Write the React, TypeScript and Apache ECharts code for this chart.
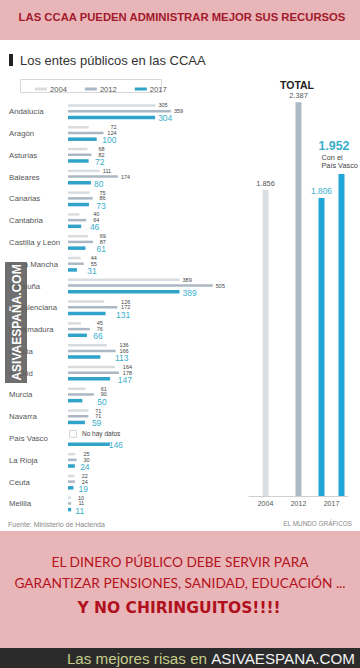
import React, { useEffect, useRef } from "react";
import * as echarts from "echarts";

// ---------- data ----------
const categories = [
  "Andalucía", "Aragón", "Asturias", "Baleares", "Canarias", "Cantabria",
  "Castilla y León", "C.-La Mancha", "Cataluña", "C. Valenciana", "Extremadura",
  "Galicia", "Madrid", "Murcia", "Navarra", "País Vasco", "La Rioja", "Ceuta", "Melilla",
];
const values2004: (number | null)[] = [305, 72, 68, 111, 75, 40, 69, 44, 389, 126, 45, 136, 164, 61, 71, null, 25, 22, 10];
const values2012: (number | null)[] = [359, 124, 82, 174, 86, 64, 87, 55, 505, 172, 76, 166, 178, 90, 71, null, 30, 24, 11];
const values2017: (number | null)[] = [304, 100, 72, 80, 73, 46, 61, 31, 389, 131, 66, 113, 147, 50, 59, 146, 24, 19, 11];
const seriesNames = ["2004", "2012", "2017"];

const totalYears = ["2004", "2012", "2017"];
const totalValues = [1856, 2387, 1806];
const total2017WithPaisVasco = 1952;

// ---------- layout / style ----------
const FONT = '"Liberation Sans", Arial, sans-serif';
const LEFT_X = 68;
const LEFT_W = 172;
const X_MAX = 600;
const K = LEFT_W / X_MAX;
const LEFT_TOP = 100.8;
const LEFT_H = 414;
const BAR_W = [2.5, 2.5, 3.5];
const COLORS = ["#d9dcdf", "#abb8c3", "#2fa3c9"];
const TOTAL_COLORS = ["#dcdfe2", "#adbac5", "#22a6d8"];
const TEAL_TEXT = "#3aafcc";
const STAGGERED = new Set(["Andalucía", "Baleares", "Cataluña"]);
const PINK = "#e8b6b9";
const SMALL_FS = 5.5;
const BIG_FS = 8.5;

const allVals = [values2004, values2012, values2017];

function fmt(v: number): string {
  if (v < 1000) return String(v);
  return Math.floor(v / 1000) + "." + String(v % 1000).padStart(3, "0");
}

function leftData(si: number) {
  const arr = allVals[si];
  const small = si < 2;
  const dy = small ? 0 : 1;
  return arr.map((v, i) => {
    const present = allVals.map((a) => a[i]).filter((x) => x != null) as number[];
    const max = Math.max(...present);
    if (v == null) {
      if (si === 0) {
        return {
          value: 0,
          label: {
            show: true,
            position: [2, BAR_W[0] / 2 + 1.5],
            align: "left",
            verticalAlign: "middle",
            formatter: "{b|}{t|No hay datos}",
            rich: {
              b: { width: 6, height: 6, borderColor: "#bbb", borderWidth: 0.6, backgroundColor: "#fff" },
              t: { fontSize: 6.5, lineHeight: 6.5, color: "#444", fontFamily: FONT, padding: [0, 0, 0, 6] },
            },
          },
        };
      }
      return "-";
    }
    const label = STAGGERED.has(categories[i])
      ? { position: "right", distance: 3, offset: [0, dy] }
      : { position: [max * K + 13, BAR_W[si] / 2 + dy], align: "right", verticalAlign: "middle" };
    return { value: v, label: { ...label, fontSize: small ? SMALL_FS : BIG_FS, lineHeight: small ? SMALL_FS : BIG_FS } };
  });
}

function buildOption(): any {
  const leftSeries = seriesNames.map((name, si) => ({
    type: "bar",
    name,
    xAxisIndex: 0,
    yAxisIndex: 0,
    data: leftData(si),
    barWidth: BAR_W[si],
    barGap: "128%",
    itemStyle: { color: COLORS[si] },
    label: {
      show: true,
      fontFamily: FONT,
      color: si < 2 ? "#444" : TEAL_TEXT,
      fontSize: si < 2 ? SMALL_FS : BIG_FS,
    },
    silent: true,
  }));

  const totalMain = {
    type: "bar",
    name: "total",
    xAxisIndex: 1,
    yAxisIndex: 1,
    barWidth: 6,
    data: totalValues.map((v, i) =>
      i < 2 ? { value: v, itemStyle: { color: TOTAL_COLORS[i] } } : "-"
    ),
    label: {
      show: true,
      position: "top",
      distance: 3,
      fontFamily: FONT,
      fontSize: 7.4,
      color: "#555",
      formatter: (p: any) => fmt(p.value),
    },
  };
  const total2017 = {
    type: "bar",
    name: "total2017",
    xAxisIndex: 2,
    yAxisIndex: 1,
    barWidth: 6,
    barGap: "233%",
    data: totalValues.map((v, i) => (i === 2 ? v : "-")),
    itemStyle: { color: TOTAL_COLORS[2] },
    label: {
      show: true,
      position: "top",
      distance: 3,
      fontFamily: FONT,
      fontSize: 8.4,
      color: TEAL_TEXT,
      formatter: (p: any) => fmt(p.value),
    },
  };
  const total2017pv = {
    type: "bar",
    name: "total2017pv",
    xAxisIndex: 2,
    yAxisIndex: 1,
    barWidth: 6,
    barGap: "233%",
    data: totalYears.map((_, i) => (i === 2 ? total2017WithPaisVasco : "-")),
    itemStyle: { color: TOTAL_COLORS[2] },
    label: {
      show: true,
      position: [-20, -35],
      align: "left",
      verticalAlign: "top",
      formatter: (p: any) => "{v|" + fmt(p.value) + "}\n{c|Con el}\n{c|País Vasco}",
      rich: {
        v: { fontFamily: FONT, fontSize: 12.4, fontWeight: "bold", color: TEAL_TEXT, lineHeight: 15 },
        c: { fontFamily: FONT, fontSize: 7.3, color: "#444", lineHeight: 8, padding: [0, 0, 0, 3] },
      },
    },
  };

  const graphic: any[] = [
    { type: "rect", shape: { x: 0, y: 0, width: 360, height: 40 }, style: { fill: PINK } },
    {
      type: "text", x: 182, y: 17,
      style: {
        text: "LAS CCAA PUEDEN ADMINISTRAR MEJOR SUS RECURSOS",
        fill: "#a3192b", fontFamily: FONT, fontSize: 11.3, fontWeight: "bold",
        textAlign: "center", textVerticalAlign: "middle",
      },
    },
    { type: "rect", shape: { x: 9, y: 54, width: 4, height: 12 }, style: { fill: "#222" } },
    {
      type: "text", x: 20, y: 60,
      style: {
        text: "Los entes públicos en las CCAA", fill: "#333", fontFamily: FONT, fontSize: 13,
        textAlign: "left", textVerticalAlign: "middle",
      },
    },
    {
      type: "rect", z: -1, shape: { x: 20.5, y: 79.5, width: 141, height: 13 },
      style: { fill: "#fff", stroke: "#d8d8d8", lineWidth: 1 },
    },
    {
      type: "text", x: 297, y: 84.5,
      style: {
        text: "TOTAL", fill: "#222", fontFamily: FONT, fontSize: 10.5, fontWeight: "bold",
        textAlign: "center", textVerticalAlign: "middle",
      },
    },
    {
      type: "text", x: 8, y: 524.5,
      style: {
        text: "Fuente: Ministerio de Hacienda", fill: "#888", fontFamily: FONT, fontSize: 7,
        textAlign: "left", textVerticalAlign: "middle",
      },
    },
    {
      type: "text", x: 352, y: 523.5,
      style: {
        text: "EL MUNDO GRÁFICOS", fill: "#888", fontFamily: FONT, fontSize: 6.4,
        textAlign: "right", textVerticalAlign: "middle",
      },
    },
    { type: "rect", shape: { x: 0, y: 531, width: 360, height: 117 }, style: { fill: PINK } },
    {
      type: "text", x: 180, y: 561,
      style: {
        text: "EL DINERO PÚBLICO DEBE SERVIR PARA", fill: "#b5121b", fontFamily: "Lato, sans-serif",
        fontSize: 13.7, fontWeight: "normal", textAlign: "center", textVerticalAlign: "middle",
      },
    },
    {
      type: "text", x: 180, y: 582,
      style: {
        text: "GARANTIZAR PENSIONES, SANIDAD, EDUCACIÓN ...", fill: "#b5121b", fontFamily: "Lato, sans-serif",
        fontSize: 13.7, fontWeight: "normal", textAlign: "center", textVerticalAlign: "middle",
      },
    },
    {
      type: "text", x: 179, y: 608,
      style: {
        text: "Y NO CHIRINGUITOS!!!!", fill: "#b0101c", fontFamily: '"DejaVu Sans", sans-serif',
        fontSize: 15.5, fontWeight: "bold", textAlign: "center", textVerticalAlign: "middle",
      },
    },
    { type: "rect", shape: { x: 0, y: 648, width: 360, height: 20 }, style: { fill: "#2b2b2b" } },
    {
      type: "text", x: 355, y: 658,
      style: {
        text: "{a|Las mejores risas en }{b|ASIVAESPANA.COM}",
        textAlign: "right", textVerticalAlign: "middle",
        rich: {
          a: { fill: "#c6cd8a", fontFamily: FONT, fontSize: 15.2 },
          b: { fill: "#f2f2f2", fontFamily: FONT, fontSize: 15.2 },
        },
      },
    },
    {
      type: "group", z: 100,
      children: [
        { type: "rect", z: 100, shape: { x: 5, y: 262, width: 22, height: 121 }, style: { fill: "rgba(95,95,95,0.9)" } },
        {
          type: "text", z: 101, x: 16.5, y: 322.5, rotation: Math.PI / 2,
          style: {
            text: "ASIVAESPAÑA.COM", fill: "#fff", fontFamily: FONT, fontSize: 12, fontWeight: "bold",
            textAlign: "center", textVerticalAlign: "middle",
          },
        },
      ],
    },
  ];

  return {
    animation: false,
    backgroundColor: "#fff",
    textStyle: { fontFamily: FONT },
    legend: {
      data: seriesNames,
      left: 30,
      top: 80,
      icon: "rect",
      itemWidth: 12,
      itemHeight: 3,
      itemGap: 18,
      selectedMode: false,
      textStyle: { fontSize: 7.6, color: "#555", fontFamily: FONT, padding: [0, 0, 0, -2] },
    },
    grid: [
      { left: LEFT_X, top: LEFT_TOP, width: LEFT_W, height: LEFT_H },
      { left: 249, top: 100, width: 99, height: 396 },
    ],
    xAxis: [
      { type: "value", gridIndex: 0, min: 0, max: X_MAX, show: false },
      {
        type: "category", gridIndex: 1, data: totalYears,
        axisLine: { lineStyle: { color: "#cfcfcf" } },
        axisTick: { show: false },
        axisLabel: { color: "#555", fontSize: 7, margin: 4, fontFamily: FONT },
      },
      { type: "category", gridIndex: 1, data: totalYears, show: false },
    ],
    yAxis: [
      {
        type: "category", gridIndex: 0, data: categories, inverse: true,
        axisLine: { show: false }, axisTick: { show: false },
        axisLabel: { align: "left", margin: LEFT_X - 9, fontSize: 7.8, color: "#555", fontFamily: FONT },
      },
      { type: "value", gridIndex: 1, min: 0, max: 2400, show: false },
    ],
    series: [...leftSeries, totalMain, total2017, total2017pv],
    graphic,
  };
}

export default function App() {
  const ref = useRef<HTMLDivElement>(null);
  useEffect(() => {
    if (!ref.current) return;
    const chart = echarts.init(ref.current, undefined, { renderer: "svg" });
    chart.setOption(buildOption());
    return () => chart.dispose();
  }, []);
  return (
    <div
      ref={ref}
      style={{ position: "fixed", left: 0, top: 0, width: 360, height: 668, background: "#fff" }}
    />
  );
}
